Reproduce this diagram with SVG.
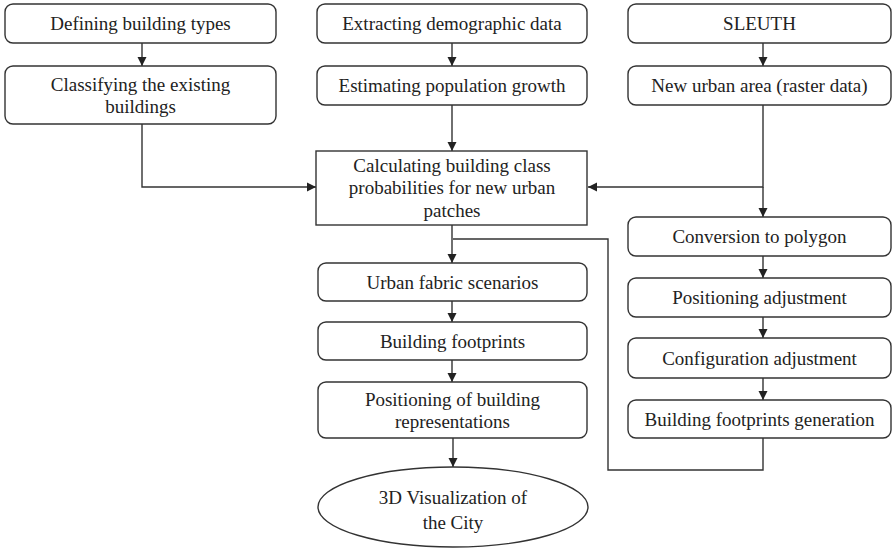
<svg xmlns="http://www.w3.org/2000/svg" width="896" height="552" viewBox="0 0 896 552">
  <defs>
    <marker id="arrow" viewBox="0 0 10 10" refX="10" refY="5" markerWidth="9" markerHeight="10" markerUnits="userSpaceOnUse" orient="auto">
      <path d="M0,0 L10,5 L0,10 z" fill="#222"/>
    </marker>
  </defs>
  <rect width="896" height="552" fill="#fff"/>

  <!-- connectors -->
  <g id="connectors" fill="none" stroke="#333" stroke-width="1.4">
    <path d="M142,43 V66" marker-end="url(#arrow)"/>
    <path d="M142,124 V187 H316" marker-end="url(#arrow)"/>
    <path d="M452,43 V66" marker-end="url(#arrow)"/>
    <path d="M452,105 V151" marker-end="url(#arrow)"/>
    <path d="M763,43 V66" marker-end="url(#arrow)"/>
    <path d="M763,105 V187 H588" marker-end="url(#arrow)"/>
    <path d="M763,187 V217" marker-end="url(#arrow)"/>
    <path d="M763,256 V278" marker-end="url(#arrow)"/>
    <path d="M763,317 V338" marker-end="url(#arrow)"/>
    <path d="M763,378 V400" marker-end="url(#arrow)"/>
    <path d="M763,438 V470 H608 V239 H453"/>
    <path d="M452,225 V263" marker-end="url(#arrow)"/>
    <path d="M452,301 V322" marker-end="url(#arrow)"/>
    <path d="M452,360 V382" marker-end="url(#arrow)"/>
    <path d="M453,438 V467" marker-end="url(#arrow)"/>
  </g>

  <g id="defining-types">
    <rect x="5" y="4" width="271" height="39" rx="8" fill="#fff" stroke="#333" stroke-width="1.4"/>
    <text x="140.5" y="30" style="font-family: 'Liberation Serif', 'DejaVu Serif', serif; font-size: 19px" fill="#222" text-anchor="middle">Defining building types</text>
  </g>
  <g id="classifying">
    <rect x="5" y="66" width="271" height="58" rx="8" fill="#fff" stroke="#333" stroke-width="1.4"/>
    <text x="140.5" y="91" style="font-family: 'Liberation Serif', 'DejaVu Serif', serif; font-size: 19px" fill="#222" text-anchor="middle">Classifying the existing</text>
    <text x="140.5" y="113" style="font-family: 'Liberation Serif', 'DejaVu Serif', serif; font-size: 19px" fill="#222" text-anchor="middle">buildings</text>
  </g>
  <g id="demographic">
    <rect x="317" y="4" width="270" height="39" rx="8" fill="#fff" stroke="#333" stroke-width="1.4"/>
    <text x="452" y="30" style="font-family: 'Liberation Serif', 'DejaVu Serif', serif; font-size: 19px" fill="#222" text-anchor="middle">Extracting demographic data</text>
  </g>
  <g id="population">
    <rect x="317" y="66" width="270" height="39" rx="8" fill="#fff" stroke="#333" stroke-width="1.4"/>
    <text x="452" y="92" style="font-family: 'Liberation Serif', 'DejaVu Serif', serif; font-size: 19px" fill="#222" text-anchor="middle">Estimating population growth</text>
  </g>
  <g id="sleuth">
    <rect x="628" y="4" width="263" height="39" rx="8" fill="#fff" stroke="#333" stroke-width="1.4"/>
    <text x="759.5" y="30" style="font-family: 'Liberation Serif', 'DejaVu Serif', serif; font-size: 19px" fill="#222" text-anchor="middle">SLEUTH</text>
  </g>
  <g id="new-urban">
    <rect x="628" y="66" width="263" height="39" rx="8" fill="#fff" stroke="#333" stroke-width="1.4"/>
    <text x="759.5" y="92" style="font-family: 'Liberation Serif', 'DejaVu Serif', serif; font-size: 19px" fill="#222" text-anchor="middle">New urban area (raster data)</text>
  </g>
  <g id="class-prob">
    <rect x="316" y="151" width="271" height="74" fill="#fff" stroke="#333" stroke-width="1.4"/>
    <text x="452" y="172" style="font-family: 'Liberation Serif', 'DejaVu Serif', serif; font-size: 19px" fill="#222" text-anchor="middle">Calculating building class</text>
    <text x="452" y="194" style="font-family: 'Liberation Serif', 'DejaVu Serif', serif; font-size: 19px" fill="#222" text-anchor="middle">probabilities for new urban</text>
    <text x="452" y="217" style="font-family: 'Liberation Serif', 'DejaVu Serif', serif; font-size: 19px" fill="#222" text-anchor="middle">patches</text>
  </g>
  <g id="conversion">
    <rect x="628" y="217" width="263" height="39" rx="8" fill="#fff" stroke="#333" stroke-width="1.4"/>
    <text x="759.5" y="243" style="font-family: 'Liberation Serif', 'DejaVu Serif', serif; font-size: 19px" fill="#222" text-anchor="middle">Conversion to polygon</text>
  </g>
  <g id="pos-adjust">
    <rect x="628" y="278" width="263" height="39" rx="8" fill="#fff" stroke="#333" stroke-width="1.4"/>
    <text x="759.5" y="304" style="font-family: 'Liberation Serif', 'DejaVu Serif', serif; font-size: 19px" fill="#222" text-anchor="middle">Positioning adjustment</text>
  </g>
  <g id="config-adjust">
    <rect x="628" y="338" width="263" height="40" rx="8" fill="#fff" stroke="#333" stroke-width="1.4"/>
    <text x="759.5" y="365" style="font-family: 'Liberation Serif', 'DejaVu Serif', serif; font-size: 19px" fill="#222" text-anchor="middle">Configuration adjustment</text>
  </g>
  <g id="footprint-gen">
    <rect x="628" y="400" width="263" height="38" rx="8" fill="#fff" stroke="#333" stroke-width="1.4"/>
    <text x="759.5" y="426" style="font-family: 'Liberation Serif', 'DejaVu Serif', serif; font-size: 19px" fill="#222" text-anchor="middle">Building footprints generation</text>
  </g>
  <g id="fabric">
    <rect x="318" y="263" width="269" height="38" rx="8" fill="#fff" stroke="#333" stroke-width="1.4"/>
    <text x="452.5" y="289" style="font-family: 'Liberation Serif', 'DejaVu Serif', serif; font-size: 19px" fill="#222" text-anchor="middle">Urban fabric scenarios</text>
  </g>
  <g id="footprints">
    <rect x="318" y="322" width="269" height="38" rx="8" fill="#fff" stroke="#333" stroke-width="1.4"/>
    <text x="452.5" y="348" style="font-family: 'Liberation Serif', 'DejaVu Serif', serif; font-size: 19px" fill="#222" text-anchor="middle">Building footprints</text>
  </g>
  <g id="positioning">
    <rect x="318" y="382" width="269" height="56" rx="8" fill="#fff" stroke="#333" stroke-width="1.4"/>
    <text x="452.5" y="406" style="font-family: 'Liberation Serif', 'DejaVu Serif', serif; font-size: 19px" fill="#222" text-anchor="middle">Positioning of building</text>
    <text x="452.5" y="428" style="font-family: 'Liberation Serif', 'DejaVu Serif', serif; font-size: 19px" fill="#222" text-anchor="middle">representations</text>
  </g>
  <g id="visualization">
    <ellipse cx="453" cy="507" rx="135" ry="40" fill="#fff" stroke="#333" stroke-width="1.4"/>
    <text x="453" y="504" style="font-family: 'Liberation Serif', 'DejaVu Serif', serif; font-size: 19px" fill="#222" text-anchor="middle">3D Visualization of</text>
    <text x="453" y="529" style="font-family: 'Liberation Serif', 'DejaVu Serif', serif; font-size: 19px" fill="#222" text-anchor="middle">the City</text>
  </g>
</svg>
